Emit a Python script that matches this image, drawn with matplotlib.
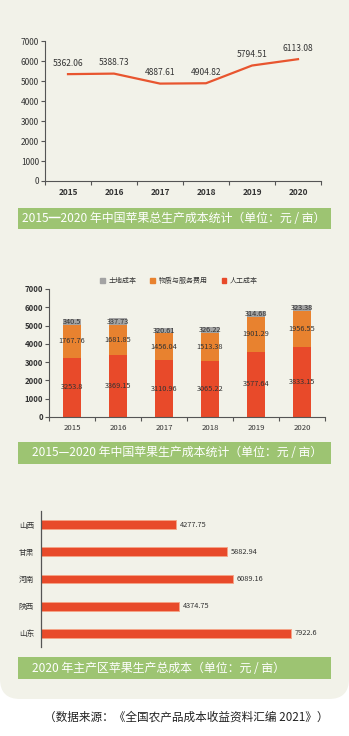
import numpy as np
import matplotlib.pyplot as plt
from matplotlib.patches import FancyBboxPatch, Rectangle, Patch

plt.rcParams['font.family'] = ['Noto Sans CJK SC', 'DejaVu Sans']

years = ['2015', '2016', '2017', '2018', '2019', '2020']
total_cost = [5362.06, 5388.73, 4887.61, 4904.82, 5794.51, 6113.08]

labor_cost = [3253.8, 3369.15, 3110.96, 3065.22, 3577.64, 3833.15]
material_cost = [1767.76, 1681.85, 1456.04, 1513.38, 1901.29, 1956.55]
land_cost = [340.5, 337.73, 320.61, 326.22, 314.68, 323.38]
stack_names = ['土地成本', '物质与服务费用', '人工成本']

provinces = ['山西', '甘肃', '河南', '陕西', '山东']
province_cost = [4277.75, 5882.94, 6089.16, 4374.75, 7922.6]

titles = [
    '2015━2020 年中国苹果总生产成本统计（单位：元 / 亩）',
    '2015—2020 年中国苹果生产成本统计（单位：元 / 亩）',
    '2020 年主产区苹果生产总成本（单位：元 / 亩）',
]
source = '（数据来源：《全国农产品成本收益资料汇编 2021》）'

RED = '#E84A2A'
ORANGE = '#E8822F'
GREY = '#A3A3A3'
GREEN = '#9DC472'
PANEL = '#F2F2E9'
AXC = '#555555'
TXT = '#333333'

W, H = 349, 736
fig = plt.figure(figsize=(W / 100, H / 100), dpi=100)
fig.patch.set_facecolor('white')

# background panel with rounded bottom corners
panel = FancyBboxPatch((0, (H - 699) / 100), W / 100, 8.0,
                       boxstyle='round,pad=0,rounding_size=0.2',
                       transform=fig.dpi_scale_trans, facecolor=PANEL,
                       edgecolor='none', zorder=-10)
fig.patches.append(panel)


def px_axes(x0, y0, x1, y1):
    ax = fig.add_axes([x0 / W, 1 - y1 / H, (x1 - x0) / W, (y1 - y0) / H])
    ax.set_facecolor('none')
    return ax


def title_bar(y0, y1, text, tx):
    fig.patches.append(Rectangle((18 / W, 1 - y1 / H), 313 / W, (y1 - y0) / H,
                                 transform=fig.transFigure, facecolor=GREEN,
                                 edgecolor='none', zorder=-5))
    fig.text(tx / W, 1 - (y0 + y1) / 2 / H, text, color='white', fontsize=8.6,
             ha='left', va='center')


def style_cat_axes(ax, size, bold_x=True, bold_y=False):
    for s in ['top', 'right']:
        ax.spines[s].set_visible(False)
    for s in ['left', 'bottom']:
        ax.spines[s].set_color(AXC)
        ax.spines[s].set_linewidth(0.8)
    x = np.arange(len(years))
    ax.set_xlim(-0.5, len(years) - 0.5)
    ax.set_xticks(x)
    ax.set_xticklabels(years, fontsize=size, color=TXT,
                       fontweight='bold' if bold_x else 'normal')
    ax.set_xticks(np.arange(-0.5, len(years)), minor=True)
    ax.tick_params(axis='x', which='major', length=0, pad=5)
    ax.tick_params(axis='x', which='minor', length=3, color=AXC, width=0.8)
    ax.set_ylim(0, 7000)
    ax.set_yticks(range(0, 7001, 1000))
    ax.tick_params(axis='y', length=3, color=AXC, width=0.8, pad=1.2,
                   labelsize=size, labelcolor=TXT)
    if bold_y:
        for lb in ax.get_yticklabels():
            lb.set_fontweight('bold')


# chart 1: total cost line
ax1 = px_axes(45, 41.5, 321, 181)
x = np.arange(len(years))
ax1.plot(x, total_cost, color='#E8552F', lw=1.6)
for xi, v in zip(x, total_cost):
    ax1.annotate(f'{v:g}', (xi, v), xytext=(0, 8), textcoords='offset points',
                 ha='center', va='center', fontsize=6.1, color=TXT)
style_cat_axes(ax1, 6.0)
title_bar(208, 229, titles[0], 22)

# chart 2: stacked bars
ax2 = px_axes(49, 289, 325, 417)
bw = 0.39
bottom2 = np.array(labor_cost)
bottom3 = bottom2 + np.array(material_cost)
ax2.bar(x, labor_cost, bw, color=RED, label=stack_names[2])
ax2.bar(x, material_cost, bw, bottom=bottom2, color=ORANGE, label=stack_names[1])
ax2.bar(x, land_cost, bw, bottom=bottom3, color=GREY, label=stack_names[0])
for xi, b, v in zip(x, np.zeros(len(x)), labor_cost):
    ax2.text(xi, b + v / 2, f'{v:g}', ha='center', va='center', fontsize=5.3, color=TXT)
for xi, b, v in zip(x, bottom2, material_cost):
    ax2.text(xi, b + v / 2, f'{v:g}', ha='center', va='center', fontsize=5.3, color=TXT)
for xi, b, v in zip(x, bottom3, land_cost):
    ax2.text(xi, b + v / 2, f'{v:g}', ha='center', va='center', fontsize=5.3, color=TXT)
style_cat_axes(ax2, 5.6, bold_x=False, bold_y=True)
handles = [Patch(color=GREY), Patch(color=ORANGE), Patch(color=RED)]
fig.legend(handles, stack_names, loc='center', ncol=3, frameon=False,
           bbox_to_anchor=(179 / W, 1 - 281 / H), fontsize=5.0,
           handlelength=0.7, handleheight=0.7, handletextpad=0.5,
           columnspacing=2.0, labelcolor=TXT)
title_bar(442, 464, titles[1], 32)

# chart 3: provinces
ax3 = px_axes(41, 511, 331, 647)
y = np.arange(len(provinces))[::-1]
ax3.barh(y, province_cost, 0.33, color=RED, edgecolor='#F4A487', linewidth=0.7)
for yi, v in zip(y, province_cost):
    ax3.text(v + 120, yi, f'{v:g}', ha='left', va='center', fontsize=5.3, color=TXT)
ax3.set_xlim(0, 290 / 31.56 * 1000)
ax3.set_ylim(-0.5, len(provinces) - 0.5)
ax3.set_yticks(y)
ax3.set_yticklabels(provinces, fontsize=5.5, color=TXT)
ax3.tick_params(axis='y', length=0, pad=5)
ax3.set_xticks([])
for s in ['top', 'right', 'bottom']:
    ax3.spines[s].set_visible(False)
ax3.spines['left'].set_color(AXC)
ax3.spines['left'].set_linewidth(0.9)
title_bar(657, 679, titles[2], 32)

fig.text(186.5 / W, 1 - 717 / H, source, ha='center', va='center',
         fontsize=8.4, color='#222222')

fig.savefig('out.png', dpi=100, facecolor=fig.get_facecolor())
